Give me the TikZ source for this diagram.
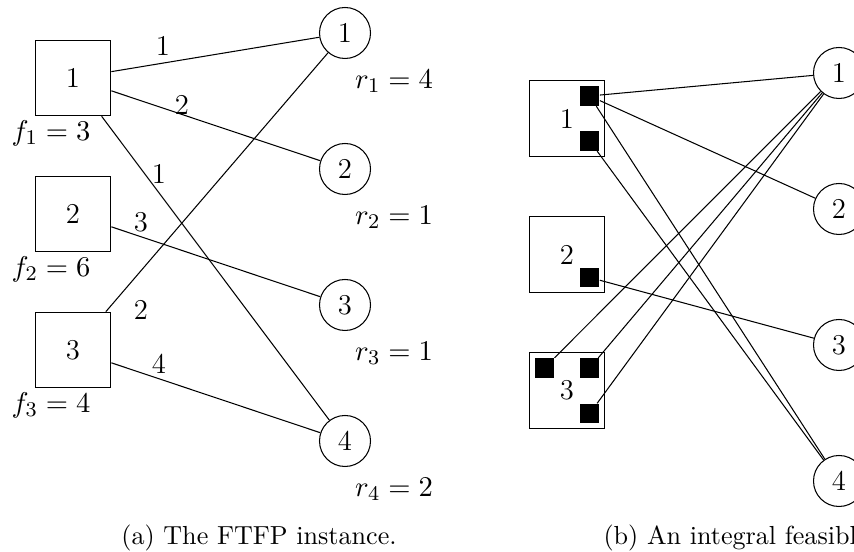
\documentclass[tikz,border=0pt]{standalone}
\begin{document}
\begin{tikzpicture}[x=0.3831pt,y=-0.3831pt,
  every node/.style={font=\fontsize{11}{13}\selectfont},
  fac/.style={draw, rectangle, minimum size=28.96pt, inner sep=0pt},
  cli/.style={draw, circle, minimum size=19.54pt, inner sep=0pt},
  cpy/.style={fill=black, rectangle, minimum size=7.39pt, inner sep=0pt},
  mlbl/.style={inner sep=0pt},
  capt/.style={inner sep=0pt, font=\fontsize{10}{12}\selectfont}]
\useasboundingbox (0,0) rectangle (854,552);
% ---------- (a) ----------
\node[fac] (s1) at (73,78) {1};
\node[fac] (s2) at (73,214) {2};
\node[fac] (s3) at (73,350) {3};
\node[cli] (c1) at (345,33) {1};
\node[cli] (c2) at (345,169) {2};
\node[cli] (c3) at (345,305) {3};
\node[cli] (c4) at (345,441) {4};
\node[mlbl] (f1) at (51,133) {$f_1=3$};
\node[mlbl] (f2) at (51,269) {$f_2=6$};
\node[mlbl] (f3) at (51,405) {$f_3=4$};
\node[mlbl] (r1) at (394,81) {$r_1=4$};
\node[mlbl] (r2) at (394,217) {$r_2=1$};
\node[mlbl] (r3) at (394,353) {$r_3=1$};
\node[mlbl] (r4) at (394,489) {$r_4=2$};
\draw (s1) -- (c1);
\draw (s1) -- (c2);
\draw (s1) -- (c4);
\draw (s2) -- (c3);
\draw (s3) -- (c1);
\draw (s3) -- (c4);
\node[mlbl] (e1) at (163,46) {1};
\node[mlbl] (e2) at (182,105) {2};
\node[mlbl] (e3) at (159,173.5) {1};
\node[mlbl] (e4) at (141,222) {3};
\node[mlbl] (e5) at (141,310) {2};
\node[mlbl] (e6) at (159,363.5) {4};
\node[capt, anchor=base] (capa) at (259,545) {(a) The FTFP instance.};
% ---------- (b) ----------
\node[fac] (S1) at (567,118.5) {1};
\node[fac] (S2) at (567,254.5) {2};
\node[fac] (S3) at (567,390.5) {3};
\node[cpy] (a1) at (589.7,96) {};
\node[cpy] (a2) at (589.7,141) {};
\node[cpy] (b1) at (589.7,277.5) {};
\node[cpy] (d1) at (544.3,368) {};
\node[cpy] (d2) at (589.7,368) {};
\node[cpy] (d3) at (589.7,413.5) {};
\node[cli] (C1) at (839,73) {1};
\node[cli] (C2) at (839,209) {2};
\node[cli] (C3) at (839,345) {3};
\node[cli] (C4) at (839,481) {4};
\draw (a1) -- (C1);
\draw (a1) -- (C2);
\draw (a1) -- (C4);
\draw (a2) -- (C4);
\draw (b1) -- (C3);
\draw (d1) -- (C1);
\draw (d2) -- (C1);
\draw (d3) -- (C1);
\node[capt, anchor=base west] (capb) at (603,545) {(b) An integral feasible};
\end{tikzpicture}
\end{document}
